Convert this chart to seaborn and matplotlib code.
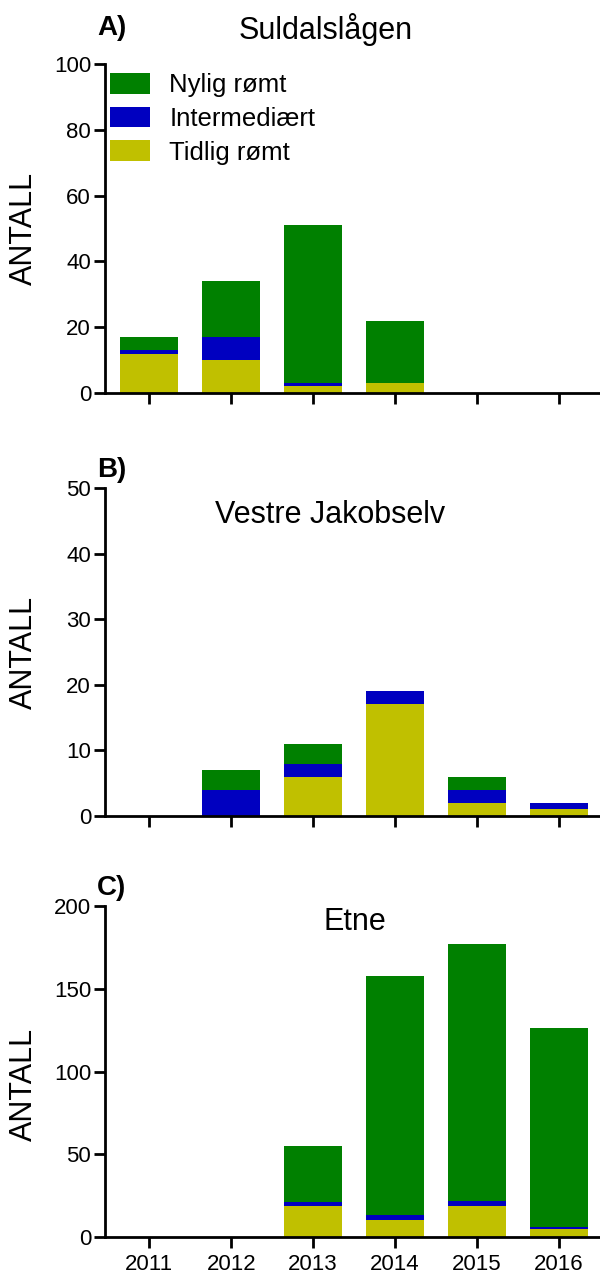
import numpy as np
import pandas as pd
import matplotlib
matplotlib.use('Agg')
import matplotlib.pyplot as plt
import seaborn as sns
from matplotlib.patches import Patch

years = ['2011', '2012', '2013', '2014', '2015', '2016']
series = ['Nylig rømt', 'Intermediært', 'Tidlig rømt']
colors = {'Nylig rømt': '#008000', 'Intermediært': '#0000C0', 'Tidlig rømt': '#C0C000'}

suld_tidlig = [12, 10, 2, 3, 0, 0]
suld_inter = [1, 7, 1, 0, 0, 0]
suld_nylig = [4, 17, 48, 19, 0, 0]

vj_tidlig = [0, 0, 6, 17, 2, 1]
vj_inter = [0, 4, 2, 2, 2, 1]
vj_nylig = [0, 3, 3, 0, 2, 0]

etne_tidlig = [0, 0, 19, 10, 19, 5]
etne_inter = [0, 0, 2, 3, 3, 1]
etne_nylig = [0, 0, 34, 145, 155, 120]

panels = [
    ('A)', 'Suldalslågen', suld_tidlig, suld_inter, suld_nylig, 100, 20),
    ('B)', 'Vestre Jakobselv', vj_tidlig, vj_inter, vj_nylig, 50, 10),
    ('C)', 'Etne', etne_tidlig, etne_inter, etne_nylig, 200, 50),
]

sns.set_theme(style='ticks')
plt.rcParams['font.family'] = ['Liberation Sans', 'DejaVu Sans']
plt.rcParams['text.color'] = 'black'
plt.rcParams['axes.labelcolor'] = 'black'
plt.rcParams['xtick.color'] = 'black'
plt.rcParams['ytick.color'] = 'black'

W, H = 600, 1273
fig = plt.figure(figsize=(W / 100, H / 100), dpi=100)

# axes boxes in pixels: (left, top, right, bottom)
boxes = [(105, 64, 600, 393), (105, 488, 600, 816), (105, 906, 600, 1237)]
letter_pos = [(112, 28), (112, 470), (112, 888)]
title_pos = [(326, 30), (330, 515), (355, 922)]
ylabel_y = [0.5, 0.5, 0.46]

for i, (letter, title, tid, inter, nyl, ymax, ystep) in enumerate(panels):
    l, t, r, b = boxes[i]
    ax = fig.add_axes([l / W, 1 - b / H, (r - l) / W, (b - t) / H])
    df = pd.DataFrame({'year': years,
                       'Tidlig rømt': tid,
                       'Intermediært': inter,
                       'Nylig rømt': nyl})
    df['lvl_mid'] = df['Tidlig rømt'] + df['Intermediært']
    df['lvl_top'] = df['lvl_mid'] + df['Nylig rømt']
    sns.barplot(data=df, x='year', y='lvl_top', order=years, color=colors['Nylig rømt'],
                saturation=1, width=0.71, linewidth=0, ax=ax)
    sns.barplot(data=df, x='year', y='lvl_mid', order=years, color=colors['Intermediært'],
                saturation=1, width=0.71, linewidth=0, ax=ax)
    sns.barplot(data=df, x='year', y='Tidlig rømt', order=years, color=colors['Tidlig rømt'],
                saturation=1, width=0.71, linewidth=0, ax=ax)
    ax.set_xlim(-0.54, 5.5)
    ax.set_ylim(0, ymax)
    ax.set_yticks(np.arange(0, ymax + 1, ystep))
    ax.set_xlabel('')
    ax.set_ylabel('ANTALL', fontsize=22, va='center', color='black')
    ax.yaxis.set_label_coords(-0.164, ylabel_y[i])
    for s in ['top', 'right']:
        ax.spines[s].set_visible(False)
    for s in ['left', 'bottom']:
        ax.spines[s].set_linewidth(2)
        ax.spines[s].set_color('black')
    ax.tick_params(axis='both', direction='out', length=8, width=2, color='black',
                   labelsize=16, pad=2, labelcolor='black')
    if i < 2:
        ax.set_xticklabels([])
    else:
        ax.tick_params(axis='x', pad=4)
    ax.grid(False)
    fig.text(letter_pos[i][0] / W, 1 - letter_pos[i][1] / H, letter, fontsize=20,
             fontweight='bold', ha='center', va='center', color='black')
    fig.text(title_pos[i][0] / W, 1 - title_pos[i][1] / H, title, fontsize=22,
             ha='center', va='center', color='black')
    if i == 0:
        handles = [Patch(facecolor=colors[s], edgecolor='none', label=s) for s in series]
        leg = ax.legend(handles=handles, loc='upper left', bbox_to_anchor=(110 / W, 1 - 73 / H),
                        bbox_transform=fig.transFigure, frameon=False, fontsize=18.5,
                        handlelength=1.56, handleheight=0.86, handletextpad=0.75,
                        labelspacing=0.37, borderpad=0, borderaxespad=0)
        for txt in leg.get_texts():
            txt.set_color('black')

fig.savefig('out.png', dpi=100)
